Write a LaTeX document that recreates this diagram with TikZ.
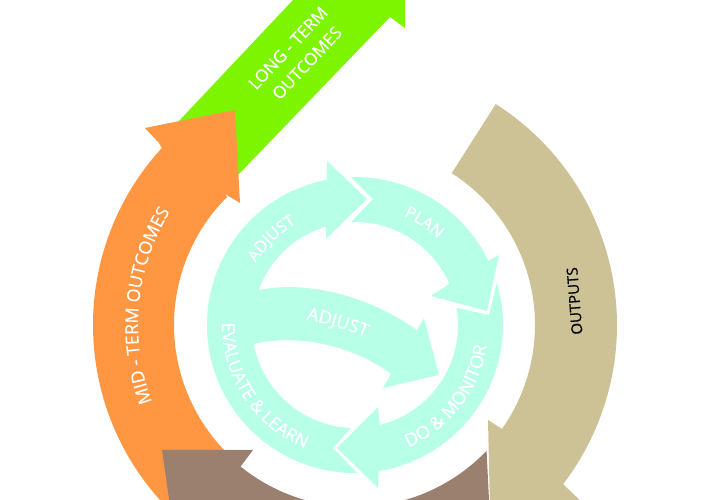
\documentclass[tikz,border=0pt]{standalone}
\usepackage{fontspec}
\setmainfont{Open Sans}
\newfontfamily\labfont{Open Sans}[FakeBold=0.35]
\newfontfamily\outfont{Open Sans}[FakeBold=0.7]
\usetikzlibrary{decorations.text}
\definecolor{cgreen}{HTML}{7DF500}
\definecolor{corange}{HTML}{FF9642}
\definecolor{cbrown}{HTML}{9B8070}
\definecolor{ctan}{HTML}{CCC295}
\definecolor{cmint}{HTML}{B8FFE8}
% arc about the common centre, in y-down pixel coordinates
\newcommand\Arc[3]{({355+#3*cos(#1)},{325+#3*sin(#1)}) arc[start angle=#1,end angle=#2,radius=#3pt]}
% text along an arc, in y-up coordinates
\newcommand\ArcText[5]{\path[decorate,decoration={text along path,text align=center,text={|\labfont\fontsize{#4}{#4}\selectfont\color{white}|#5}}] ({355+#3*cos(#1)},{175+#3*sin(#1)}) arc[start angle=#1,end angle=#2,radius=#3pt];}
\tikzset{lab/.style={text=white,font=\labfont\fontsize{17}{18}\selectfont,inner sep=0pt}}
\begin{document}
\begin{tikzpicture}[x=1pt,y=1pt]
\useasboundingbox (0,0) rectangle (720,500);
\clip (0,0) rectangle (720,500);
\begin{scope}[shift={(0,500)},yscale=-1]
\fill[cgreen] (178,122) -- (293,0) -- (293,-20) -- (405,-20) -- (405,28) -- (390,17) -- (238,175) -- cycle;
\fill[corange] \Arc{133}{222.5}{262} -- (159,143) -- (145,128) -- (235,110) -- (240,203) -- (225,194) -- \Arc{225}{133}{181} -- cycle;
\fill[cbrown] (162,450) -- (253,450) -- (241,466) -- \Arc{129}{43.7}{182} -- (490,520) -- (172,520) -- cycle;
\fill[ctan] \Arc{-57.5}{37.4}{262} -- (590,510) -- (490,510) -- (488,420) -- (502,429) -- \Arc{35.3}{-57.5}{180} -- cycle;
% inner ring
\fill[cmint] \Arc{89.2}{259}{148} -- (327,161) -- (367,199) -- (326,239) -- (326,227) -- \Arc{253.5}{200}{102.5}
  .. controls (310,280) and (370,297) .. (417,330) -- (424,318) -- (439,375) -- (383,388) -- (391,374)
  .. controls (355,347) and (300,333) .. (254,344) -- \Arc{169.3}{92.2}{103} -- (333,448) -- cycle;
\fill[cmint] \Arc{268.4}{334.3}{148} -- (499,255) -- (487,311) -- (431,296) -- (449,284) -- \Arc{336.4}{267.8}{103} -- (373,199) -- cycle;
\fill[cmint] \Arc{-16.6}{80.8}{148} -- (378,488) -- (337,448) -- (378,407) -- (380,426) -- \Arc{76}{-9.6}{103} -- (489,315) -- cycle;
\end{scope}
% labels
\node[lab,rotate=46.7] (longa) at (288,452) {LONG - TERM};
\node[lab,rotate=46.7] (longb) at (307,437) {OUTCOMES};
\node[text=black,font=\outfont\fontsize{15}{17}\selectfont,inner sep=0pt,rotate=94.5] (outp) at (574.5,199) {OUTPUTS};
\ArcText{214.6}{134.6}{217}{17.8}{MID - TERM OUTCOMES}
\ArcText{164}{104}{117}{16.5}{ADJUST}
\ArcText{91}{21}{119.5}{16.5}{PLAN}
\ArcText{-82.7}{7.3}{133.5}{18}{DO {\&} MONITOR}
\ArcText{158.5}{268.5}{133}{17.6}{EVALUATE {\&} LEARN}
\path[decorate,decoration={text along path,text align=center,text={|\labfont\fontsize{18}{18}\selectfont\color{white}|ADJUST}}] (259,184.5) .. controls (297,185.5) and (347,175.5) .. (409,142.5);
\end{tikzpicture}
\end{document}
